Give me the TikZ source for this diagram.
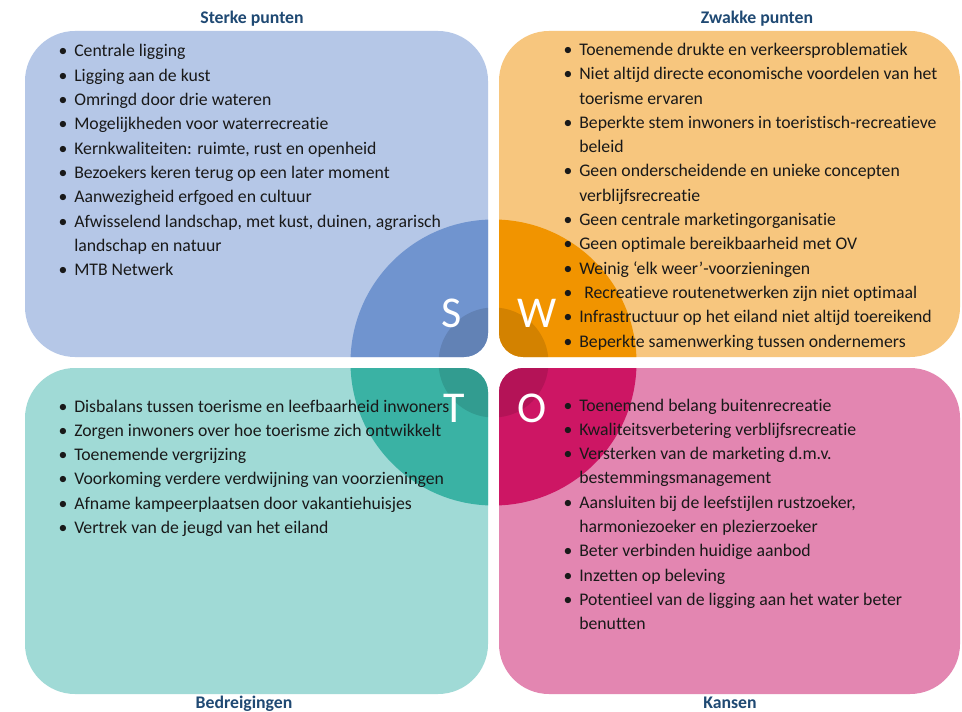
\documentclass[tikz,border=0pt]{standalone}
\usepackage{fontspec}
\setmainfont{Carlito}[Ligatures=NoCommon]
\definecolor{bbox}{RGB}{181,199,231}
\definecolor{bwedge}{RGB}{112,148,207}
\definecolor{obox}{RGB}{247,198,126}
\definecolor{owedge}{RGB}{241,148,0}
\definecolor{tbox}{RGB}{160,218,214}
\definecolor{twedge}{RGB}{58,178,164}
\definecolor{pbox}{RGB}{227,134,177}
\definecolor{pwedge}{RGB}{205,22,100}
\definecolor{titlecol}{RGB}{31,73,115}
\definecolor{txtcol}{RGB}{25,25,25}
\newcommand\swotquad[3]{%
  \begin{scope}
    \clip #1;
    \fill[#2] (0,0) rectangle (962,712);
    \fill[#3] (493.5,362.5) circle[radius=107.25pt];
    \fill[black,opacity=0.12] (493.5,362.5) circle[radius=41.25pt];
  \end{scope}}
\newcommand\swotitem[4]{\node[bul] (#1b) at (#2-11,#3) {•};\node[txt] (#1) at (#2,#3) {#4};}
\newcommand\swotcont[4]{\node[txt] (#1) at (#2,#3) {#4};}
\begin{document}
\begin{tikzpicture}[x=0.75pt,y=-0.75pt,
  txt/.style={anchor=base west,inner sep=0pt,text=txtcol,font=\fontsize{13.3}{16}\selectfont},
  bul/.style={anchor=base,inner sep=0pt,text=txtcol,font=\fontsize{13.3}{16}\selectfont},
  ttl/.style={anchor=base,inner sep=0pt,text=titlecol,font=\fontsize{13.3}{16}\selectfont\bfseries},
  letter/.style={anchor=base,inner sep=0pt,text=white,font=\fontsize{33}{36}\selectfont}]
\useasboundingbox (0,0) rectangle (962,712);
\fill[white] (0,0) rectangle (962,712);
% quadrants
\swotquad{(25,194) [rounded corners=37.5pt] -- (25,31) -- (488,31) -- (488,194) [rounded corners=18pt] -- (488,357) -- (256,357) [rounded corners=37.5pt] -- (25,357) -- cycle}{bbox}{bwedge}
\swotquad{(499,194) [rounded corners=37.5pt] -- (499,31) -- (960,31) -- (960,357) -- (730,357) [rounded corners=18pt] -- (499,357) -- cycle}{obox}{owedge}
\swotquad{(25,531) [rounded corners=37.5pt] -- (25,368) -- (256,368) [rounded corners=18pt] -- (488,368) -- (488,531) [rounded corners=37.5pt] -- (488,694) -- (25,694) -- cycle}{tbox}{twedge}
\swotquad{(960,531) [rounded corners=37.5pt] -- (960,694) -- (499,694) -- (499,531) [rounded corners=18pt] -- (499,368) -- (730,368) [rounded corners=37.5pt] -- (960,368) -- cycle}{pbox}{pwedge}
% letters
\node[letter] (S) at (452,328) {S};
\node[letter] (W) at (537,328) {W};
\node[letter] (T) at (454,422) {T};
\node[letter] (O) at (532,422) {O};
% titles
\node[ttl] (t1) at (252,24) {Sterke punten};
\node[ttl] (t2) at (757,24) {Zwakke punten};
\node[ttl] (t3) at (244,708) {Bedreigingen};
\node[ttl] (t4) at (730,708) {Kansen};
% Sterke punten
\swotitem{s1}{74}{57}{Centrale ligging}
\swotitem{s2}{74}{81.3}{Ligging aan de kust}
\swotitem{s3}{74}{105.6}{Omringd door drie wateren}
\swotitem{s4}{74}{129.9}{Mogelijkheden voor waterrecreatie}
\swotitem{s5}{74}{154.2}{Kernkwaliteiten: ruimte, rust en openheid}
\swotitem{s6}{74}{178.5}{Bezoekers keren terug op een later moment}
\swotitem{s7}{74}{202.8}{Aanwezigheid erfgoed en cultuur}
\swotitem{s8}{74}{227.1}{Afwisselend landschap, met kust, duinen, agrarisch}
\swotcont{s8c}{74}{251.4}{landschap en natuur}
\swotitem{s9}{74}{275.7}{MTB Netwerk}
% Zwakke punten
\swotitem{w1}{579}{55.5}{Toenemende drukte en verkeersproblematiek}
\swotitem{w2}{579}{79.8}{Niet altijd directe economische voordelen van het}
\swotcont{w2c}{579}{104.1}{toerisme ervaren}
\swotitem{w3}{579}{128.4}{Beperkte stem inwoners in toeristisch-recreatieve}
\swotcont{w3c}{579}{152.7}{beleid}
\swotitem{w4}{579}{177}{Geen onderscheidende en unieke concepten}
\swotcont{w4c}{579}{201.3}{verblijfsrecreatie}
\swotitem{w5}{579}{225.6}{Geen centrale marketingorganisatie}
\swotitem{w6}{579}{249.9}{Geen optimale bereikbaarheid met OV}
\swotitem{w7}{579}{274.2}{Weinig ‘elk weer’-voorzieningen}
\node[bul] (w8b) at (568,298.5) {•};
\node[txt] (w8) at (584,298.5) {Recreatieve routenetwerken zijn niet optimaal};
\swotitem{w9}{579}{322.8}{Infrastructuur op het eiland niet altijd toereikend}
\swotitem{w10}{579}{347.1}{Beperkte samenwerking tussen ondernemers}
% Bedreigingen
\swotitem{b1}{74}{412}{Disbalans tussen toerisme en leefbaarheid inwoners}
\swotitem{b2}{74}{436.3}{Zorgen inwoners over hoe toerisme zich ontwikkelt}
\swotitem{b3}{74}{460.6}{Toenemende vergrijzing}
\swotitem{b4}{74}{484.9}{Voorkoming verdere verdwijning van voorzieningen}
\swotitem{b5}{74}{509.2}{Afname kampeerplaatsen door vakantiehuisjes}
\swotitem{b6}{74}{533.5}{Vertrek van de jeugd van het eiland}
% Kansen
\swotitem{k1}{579}{411}{Toenemend belang buitenrecreatie}
\swotitem{k2}{579}{435.3}{Kwaliteitsverbetering verblijfsrecreatie}
\swotitem{k3}{579}{459.6}{Versterken van de marketing d.m.v.}
\swotcont{k3c}{579}{483.9}{bestemmingsmanagement}
\swotitem{k4}{579}{508.2}{Aansluiten bij de leefstijlen rustzoeker,}
\swotcont{k4c}{579}{532.5}{harmoniezoeker en plezierzoeker}
\swotitem{k5}{579}{556.8}{Beter verbinden huidige aanbod}
\swotitem{k6}{579}{581.1}{Inzetten op beleving}
\swotitem{k7}{579}{605.4}{Potentieel van de ligging aan het water beter}
\swotcont{k7c}{579}{629.7}{benutten}
\end{tikzpicture}
\end{document}
